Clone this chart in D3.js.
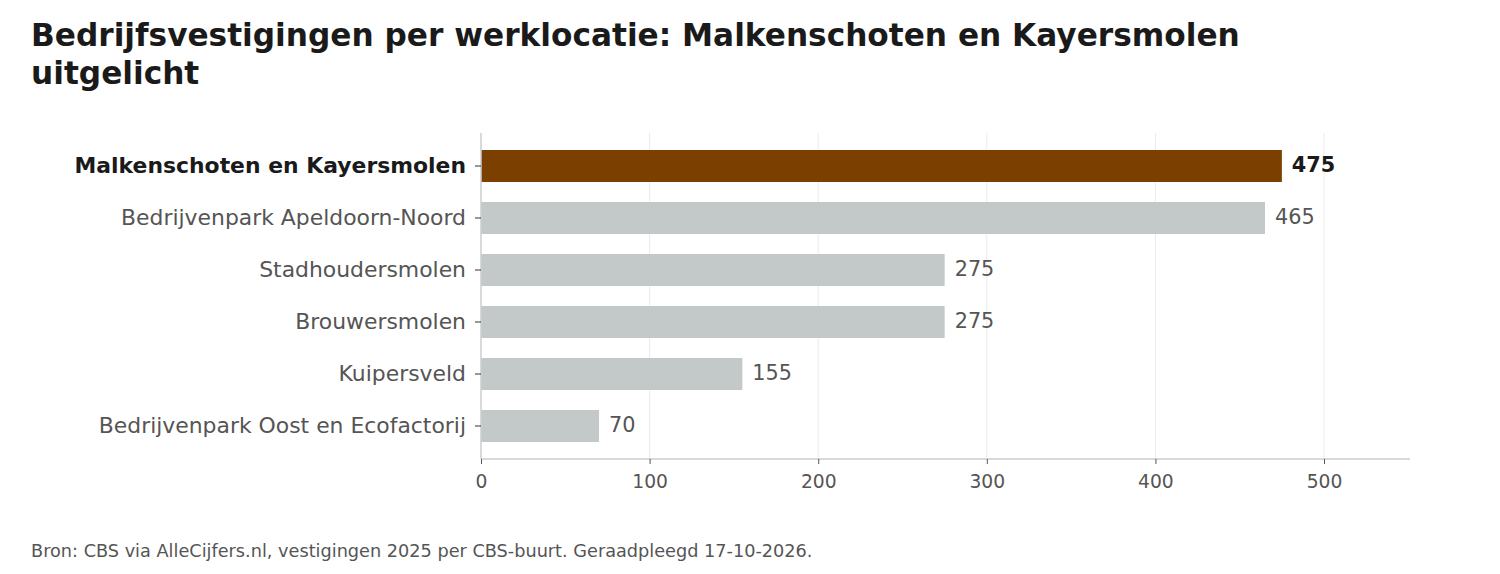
<!DOCTYPE html>
<html><head><meta charset="utf-8">
<script src="https://cdn.jsdelivr.net/npm/d3@7"></script>
<style>body{margin:0;background:#fff;} svg{display:block;font-family:"DejaVu Sans",sans-serif;}</style>
</head><body>
<svg id="chart" width="1500" height="574"></svg>
<script>
const categories = ["Malkenschoten en Kayersmolen","Bedrijvenpark Apeldoorn-Noord","Stadhoudersmolen","Brouwersmolen","Kuipersveld","Bedrijvenpark Oost en Ecofactorij"];
const values = [475,465,275,275,155,70];
const highlight = "Malkenschoten en Kayersmolen";
const xTicks = [0,100,200,300,400,500];
const titleLines = ["Bedrijfsvestigingen per werklocatie: Malkenschoten en Kayersmolen","uitgelicht"];
const sourceText = "Bron: CBS via AlleCijfers.nl, vestigingen 2025 per CBS-buurt. Geraadpleegd 17-10-2026.";

const svg = d3.select("#chart");
const pL = 481, pR = 1410, pT = 133, pB = 459;
const x = d3.scaleLinear().domain([0,551]).range([pL,pR]);
const y = d3.scaleBand().domain(categories).range([pT,pB]).paddingInner(0.385).paddingOuter(0.327);

svg.selectAll("text.title").data(titleLines).join("text").attr("class","title")
  .attr("x",31).attr("y",(d,i)=>46+i*38)
  .attr("font-size",31.2).attr("font-weight","bold").attr("fill","#1a1a1a").text(d=>d);

// gridlines
svg.append("g").selectAll("line").data(xTicks.filter(d=>d>0)).join("line")
  .attr("x1",d=>x(d)).attr("x2",d=>x(d)).attr("y1",pT).attr("y2",pB)
  .attr("stroke","#ebebeb").attr("stroke-width",1);

// bars
svg.append("g").selectAll("rect").data(categories).join("rect")
  .attr("x",x(0)).attr("y",d=>y(d)).attr("height",y.bandwidth())
  .attr("width",(d,i)=>x(values[i])-x(0))
  .attr("fill",d=>d===highlight?"#7b3f00":"#c3c8c9");

// value labels
svg.append("g").selectAll("text").data(categories).join("text")
  .attr("x",(d,i)=>x(values[i])+10).attr("y",d=>y(d)+y.bandwidth()/2).attr("dy","0.3em")
  .attr("font-size",20.8).attr("font-weight",d=>d===highlight?"bold":"normal")
  .attr("fill",d=>d===highlight?"#1a1a1a":"#555").text((d,i)=>values[i]);

// x axis
const xAxis = svg.append("g").attr("transform",`translate(0,${pB})`)
  .call(d3.axisBottom(x).tickValues(xTicks).tickSize(5).tickPadding(11).tickSizeOuter(0));
xAxis.select(".domain").attr("stroke","#ccc").attr("stroke-width",1.5).attr("d",`M${pL},0H${pR}`);
xAxis.selectAll(".tick line").attr("stroke","#555");
xAxis.selectAll(".tick text").attr("font-size",18.7).attr("fill","#555").attr("font-family","DejaVu Sans");

// y axis
const yAxis = svg.append("g").attr("transform",`translate(${pL},0)`)
  .call(d3.axisLeft(y).tickSize(6).tickPadding(9).tickSizeOuter(0));
yAxis.select(".domain").attr("stroke","#ccc").attr("stroke-width",1.5).attr("d",`M0,${pT}V${pB}`);
yAxis.selectAll(".tick line").attr("stroke","#333");
yAxis.selectAll(".tick text").attr("font-size",21.9).attr("font-family","DejaVu Sans")
  .attr("font-weight",d=>d===highlight?"bold":"normal")
  .attr("fill",d=>d===highlight?"#1a1a1a":"#555");

svg.append("text").attr("x",31).attr("y",557).attr("font-size",17.7).attr("fill","#555").text(sourceText);
</script>
</body></html>
